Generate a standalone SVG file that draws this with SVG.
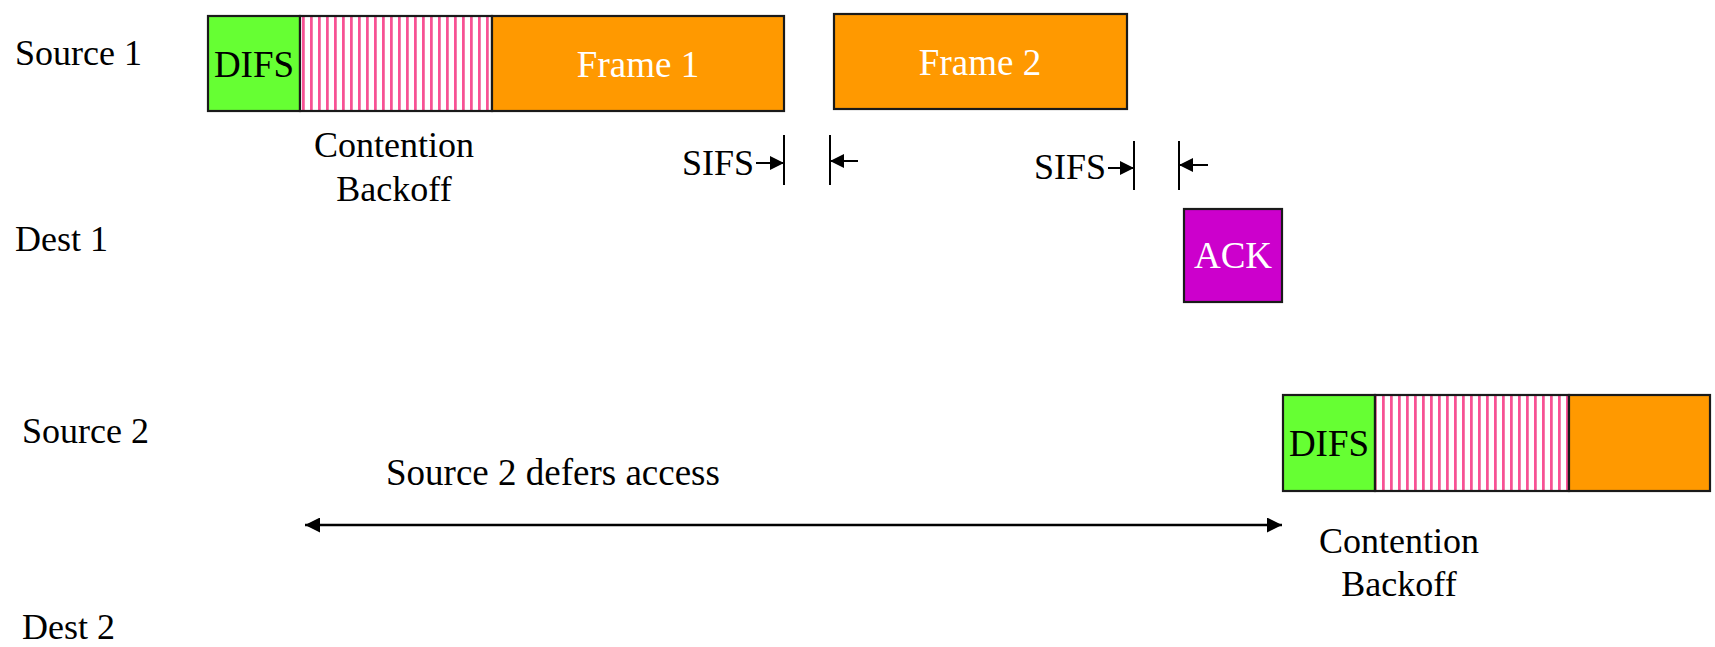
<svg xmlns="http://www.w3.org/2000/svg" width="1715" height="647" viewBox="0 0 1715 647">
  <style>
    text { font-family: "Liberation Serif", "Times New Roman", serif; fill: #000; }
    .lbl { font-size: 36px; }
    .big { font-size: 37px; }
    .inv { fill: #fff; }
    .mid { text-anchor: middle; }
    .box { stroke: #1a1a1a; stroke-width: 2.2; }
    .difs { fill: #66ff33; }
    .frame { fill: #ff9900; }
    .ack { fill: #cc00cc; }
    .backoff { fill: url(#stripes); }
    .tick { stroke: #000; stroke-width: 2; fill: none; }
    .arr { stroke: #000; stroke-width: 2; fill: none; }
    .span { stroke: #000; stroke-width: 2.6; fill: none; }
  </style>
  <defs>
    <!-- vertical pink stripes for the contention backoff window -->
    <pattern id="stripes" patternUnits="userSpaceOnUse" x="300" y="0" width="8" height="10">
      <rect x="0" y="0" width="8" height="10" fill="#ffffff"/>
      <rect x="2" y="0" width="1.5" height="10" fill="#ff4f97"/>
      <rect x="3.5" y="0" width="1" height="10" fill="#e8005c"/>
    </pattern>
    <marker id="head" viewBox="0 0 10 10" refX="10" refY="5" markerUnits="userSpaceOnUse" markerWidth="15" markerHeight="14" orient="auto-start-reverse">
      <path d="M0,0 L10,5 L0,10 Z" fill="#000"/>
    </marker>
    <marker id="head2" viewBox="0 0 10 10" refX="10" refY="5" markerUnits="userSpaceOnUse" markerWidth="15" markerHeight="15" orient="auto-start-reverse">
      <path d="M0,0 L10,5 L0,10 Z" fill="#000"/>
    </marker>
  </defs>

  <rect width="1715" height="647" fill="#ffffff"/>

  <!-- station labels -->
  <g id="labels">
    <text class="lbl" x="15" y="65">Source 1</text>
    <text class="lbl" x="15" y="251">Dest 1</text>
    <text class="lbl" x="22" y="443">Source 2</text>
    <text class="lbl" x="22" y="639">Dest 2</text>
  </g>

  <!-- Source 1 transmission -->
  <g id="s1-difs">
    <rect class="box difs" x="208" y="16" width="92" height="95"/>
    <text class="big mid" x="254" y="77">DIFS</text>
  </g>
  <g id="s1-backoff">
    <rect class="box backoff" x="300" y="16" width="192" height="95"/>
    <text class="lbl mid" x="394" y="157">Contention</text>
    <text class="lbl mid" x="394" y="201">Backoff</text>
  </g>
  <g id="s1-frame1">
    <rect class="box frame" x="492" y="16" width="292" height="95"/>
    <text class="big mid inv" x="638" y="77">Frame 1</text>
  </g>
  <g id="s1-frame2">
    <rect class="box frame" x="834" y="14" width="293" height="95"/>
    <text class="big mid inv" x="980" y="75">Frame 2</text>
  </g>

  <!-- Dest 1 acknowledgement -->
  <g id="d1-ack">
    <rect class="box ack" x="1184" y="209" width="98" height="93"/>
    <text class="big mid inv" x="1233" y="268">ACK</text>
  </g>

  <!-- Source 2 transmission -->
  <g id="s2-difs">
    <rect class="box difs" x="1283" y="395" width="92" height="96"/>
    <text class="big mid" x="1329" y="456">DIFS</text>
  </g>
  <g id="s2-backoff">
    <rect class="box backoff" x="1375" y="395" width="194" height="96"/>
    <text class="lbl mid" x="1399" y="553">Contention</text>
    <text class="lbl mid" x="1399" y="596">Backoff</text>
  </g>
  <g id="s2-frame">
    <rect class="box frame" x="1569" y="395" width="141" height="96"/>
  </g>

  <!-- interframe spacing markers and deferral span -->
  <g id="connectors">
    <g id="sifs1">
      <text class="lbl" x="682" y="175">SIFS</text>
      <line class="tick" x1="784" y1="135" x2="784" y2="185"/>
      <line class="tick" x1="830" y1="135" x2="830" y2="185"/>
      <line class="arr" x1="756" y1="163" x2="784" y2="163" marker-end="url(#head)"/>
      <line class="arr" x1="858" y1="161" x2="830" y2="161" marker-end="url(#head)"/>
    </g>
    <g id="sifs2">
      <text class="lbl" x="1034" y="179">SIFS</text>
      <line class="tick" x1="1134" y1="141" x2="1134" y2="190"/>
      <line class="tick" x1="1179" y1="141" x2="1179" y2="190"/>
      <line class="arr" x1="1108" y1="168" x2="1134" y2="168" marker-end="url(#head)"/>
      <line class="arr" x1="1208" y1="165" x2="1179" y2="165" marker-end="url(#head)"/>
    </g>
    <g id="defer">
      <text class="big" x="386" y="485">Source 2 defers access</text>
      <line class="span" x1="305" y1="525" x2="1282" y2="525" marker-start="url(#head2)" marker-end="url(#head2)"/>
    </g>
  </g>
</svg>
